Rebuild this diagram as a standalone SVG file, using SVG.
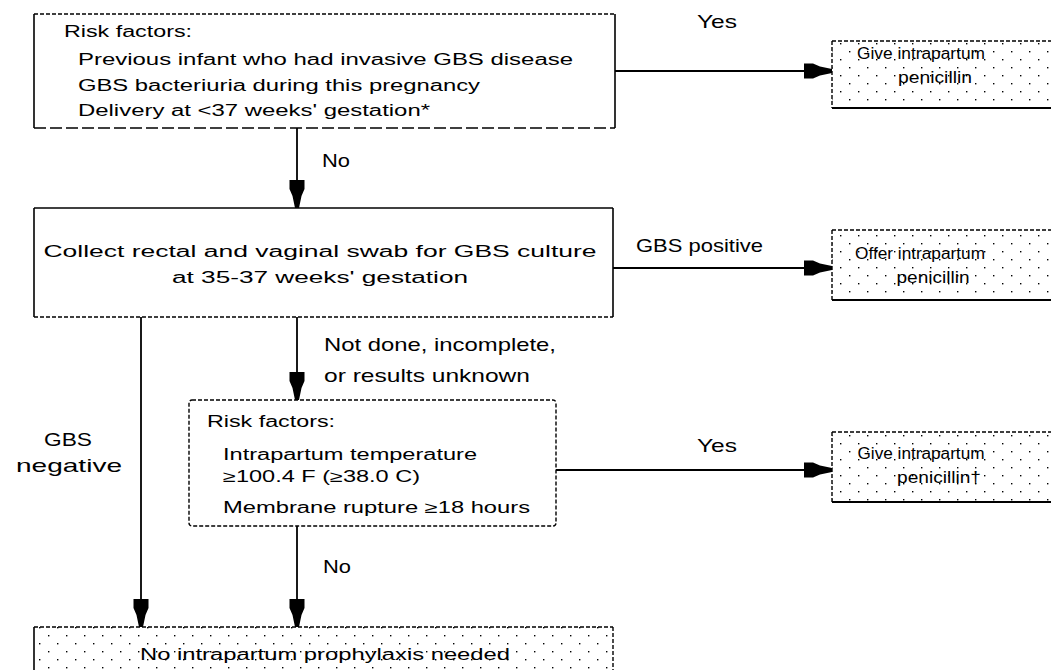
<svg xmlns="http://www.w3.org/2000/svg" width="1051" height="670" viewBox="0 0 1051 670">
<style>
  text { font-family: "Liberation Sans", Arial, sans-serif; fill: #000; }
  .bt { font-size: 16px; }
  .lb { font-size: 19px; }
  .solid { stroke: #000; stroke-width: 1.6; fill: none; }
  .dash { stroke: #000; stroke-width: 1.4; fill: none; stroke-dasharray: 4 2; }
  .ldash { stroke: #000; stroke-width: 1.6; fill: none; stroke-dasharray: 12 4; }
  .thick { stroke: #000; stroke-width: 2.2; fill: none; }
  .conn { stroke: #000; stroke-width: 1.8; fill: none; marker-end: url(#ah); }
  .dots { fill: url(#dotpat); stroke: none; }
</style>
<defs>
  <pattern id="dotpat" width="18" height="16" patternUnits="userSpaceOnUse">
    <rect x="3" y="3" width="1.4" height="1.4" fill="#000"/>
    <rect x="12" y="11" width="1.4" height="1.4" fill="#000"/>
  </pattern>
  <marker id="ah" markerUnits="userSpaceOnUse" markerWidth="30" markerHeight="18" refX="28" refY="0" viewBox="0 -9 30 18" orient="auto">
    <path d="M0,-7.5 L9,-7.5 L16,-4.5 L28,-2 L28,2 L16,4.5 L9,7.5 L0,7.5 Z" fill="#000"/>
  </marker>
</defs>
<rect width="1051" height="670" fill="#fff"/>

<g id="connectors">
  <line class="conn" x1="615" y1="71" x2="832" y2="71"/>
  <line class="conn" x1="297" y1="128" x2="297" y2="208"/>
  <line class="conn" x1="613" y1="268" x2="832" y2="268"/>
  <line class="conn" x1="297" y1="317" x2="297" y2="400"/>
  <line class="conn" x1="141" y1="317" x2="141" y2="627"/>
  <line class="conn" x1="556" y1="470" x2="832" y2="470"/>
  <line class="conn" x1="297" y1="526" x2="297" y2="627"/>
  <text class="lb" x="697" y="28" textLength="40" lengthAdjust="spacingAndGlyphs">Yes</text>
  <text class="lb" x="322" y="167" textLength="28" lengthAdjust="spacingAndGlyphs">No</text>
  <text class="lb" x="636" y="252" textLength="127" lengthAdjust="spacingAndGlyphs">GBS positive</text>
  <text class="lb" x="324" y="351" textLength="232" lengthAdjust="spacingAndGlyphs">Not done, incomplete,</text>
  <text class="lb" x="324" y="382" textLength="206" lengthAdjust="spacingAndGlyphs">or results unknown</text>
  <text class="lb" x="44" y="446" textLength="48" lengthAdjust="spacingAndGlyphs">GBS</text>
  <text class="lb" x="16" y="472" textLength="106" lengthAdjust="spacingAndGlyphs">negative</text>
  <text class="lb" x="697" y="452" textLength="40" lengthAdjust="spacingAndGlyphs">Yes</text>
  <text class="lb" x="323" y="573" textLength="28" lengthAdjust="spacingAndGlyphs">No</text>
</g>

<g id="risk1">
  <rect x="34" y="14" width="581" height="114" fill="#fff"/>
  <line class="dash" x1="34" y1="14" x2="615" y2="14"/>
  <line class="ldash" x1="34" y1="128" x2="615" y2="128"/>
  <line class="solid" x1="34" y1="14" x2="34" y2="128"/>
  <line class="solid" x1="615" y1="14" x2="615" y2="128"/>
  <text class="bt" x="64" y="37" textLength="128" lengthAdjust="spacingAndGlyphs">Risk factors:</text>
  <text class="bt" x="78" y="65" textLength="495" lengthAdjust="spacingAndGlyphs">Previous infant who had invasive GBS disease</text>
  <text class="bt" x="78" y="91" textLength="402" lengthAdjust="spacingAndGlyphs">GBS bacteriuria during this pregnancy</text>
  <text class="bt" x="78" y="116" textLength="352" lengthAdjust="spacingAndGlyphs">Delivery at &lt;37 weeks' gestation*</text>
</g>

<g id="giveA">
  <rect class="dots" x="832" y="41" width="225" height="67"/>
  <line class="dash" x1="832" y1="41" x2="1051" y2="41"/>
  <line class="dash" x1="832" y1="41" x2="832" y2="108"/>
  <line class="thick" x1="832" y1="108" x2="1051" y2="108"/>
  <text class="bt" x="921" y="59" text-anchor="middle" textLength="128" lengthAdjust="spacingAndGlyphs">Give intrapartum</text>
  <text class="bt" x="935" y="83" text-anchor="middle" textLength="74" lengthAdjust="spacingAndGlyphs">penicillin</text>
</g>

<g id="collect">
  <rect x="34" y="208" width="579" height="109" fill="#fff"/>
  <line class="solid" x1="34" y1="208" x2="613" y2="208"/>
  <line class="solid" x1="34" y1="208" x2="34" y2="317"/>
  <line class="solid" x1="613" y1="208" x2="613" y2="317"/>
  <line class="dash" x1="34" y1="317" x2="613" y2="317"/>
  <text class="bt" x="320" y="257" text-anchor="middle" textLength="553" lengthAdjust="spacingAndGlyphs">Collect rectal and vaginal swab for GBS culture</text>
  <text class="bt" x="320" y="283" text-anchor="middle" textLength="296" lengthAdjust="spacingAndGlyphs">at 35-37 weeks' gestation</text>
</g>

<g id="offerB">
  <rect class="dots" x="832" y="230" width="225" height="70"/>
  <line class="dash" x1="832" y1="230" x2="1051" y2="230"/>
  <line class="dash" x1="832" y1="230" x2="832" y2="300"/>
  <line class="thick" x1="832" y1="300" x2="1051" y2="300"/>
  <text class="bt" x="920" y="259" text-anchor="middle" textLength="130" lengthAdjust="spacingAndGlyphs">Offer intrapartum</text>
  <text class="bt" x="933" y="283" text-anchor="middle" textLength="73" lengthAdjust="spacingAndGlyphs">penicillin</text>
</g>

<g id="risk2">
  <rect x="189" y="400" width="367" height="126" rx="3" fill="#fff" class="dash"/>
  <text class="bt" x="207" y="427" textLength="128" lengthAdjust="spacingAndGlyphs">Risk factors:</text>
  <text class="bt" x="223" y="460" textLength="254" lengthAdjust="spacingAndGlyphs">Intrapartum temperature</text>
  <text class="bt" x="223" y="482" textLength="197" lengthAdjust="spacingAndGlyphs">≥100.4 F (≥38.0 C)</text>
  <text class="bt" x="223" y="513" textLength="307" lengthAdjust="spacingAndGlyphs">Membrane rupture ≥18 hours</text>
</g>

<g id="giveC">
  <rect class="dots" x="832" y="432" width="225" height="70"/>
  <line class="dash" x1="832" y1="432" x2="1051" y2="432"/>
  <line class="dash" x1="832" y1="432" x2="832" y2="502"/>
  <line class="thick" x1="832" y1="502" x2="1051" y2="502"/>
  <text class="bt" x="921" y="459" text-anchor="middle" textLength="127" lengthAdjust="spacingAndGlyphs">Give intrapartum</text>
  <text class="bt" x="939" y="483" text-anchor="middle" textLength="84" lengthAdjust="spacingAndGlyphs">penicillin†</text>
</g>

<g id="noProph">
  <rect class="dots" x="34" y="627" width="579" height="50"/>
  <line class="dash" x1="34" y1="627" x2="613" y2="627"/>
  <line class="solid" x1="34" y1="627" x2="34" y2="670"/>
  <line class="dash" x1="613" y1="627" x2="613" y2="670"/>
  <text class="bt" x="325" y="660" text-anchor="middle" textLength="370" lengthAdjust="spacingAndGlyphs">No intrapartum prophylaxis needed</text>
</g>
</svg>
